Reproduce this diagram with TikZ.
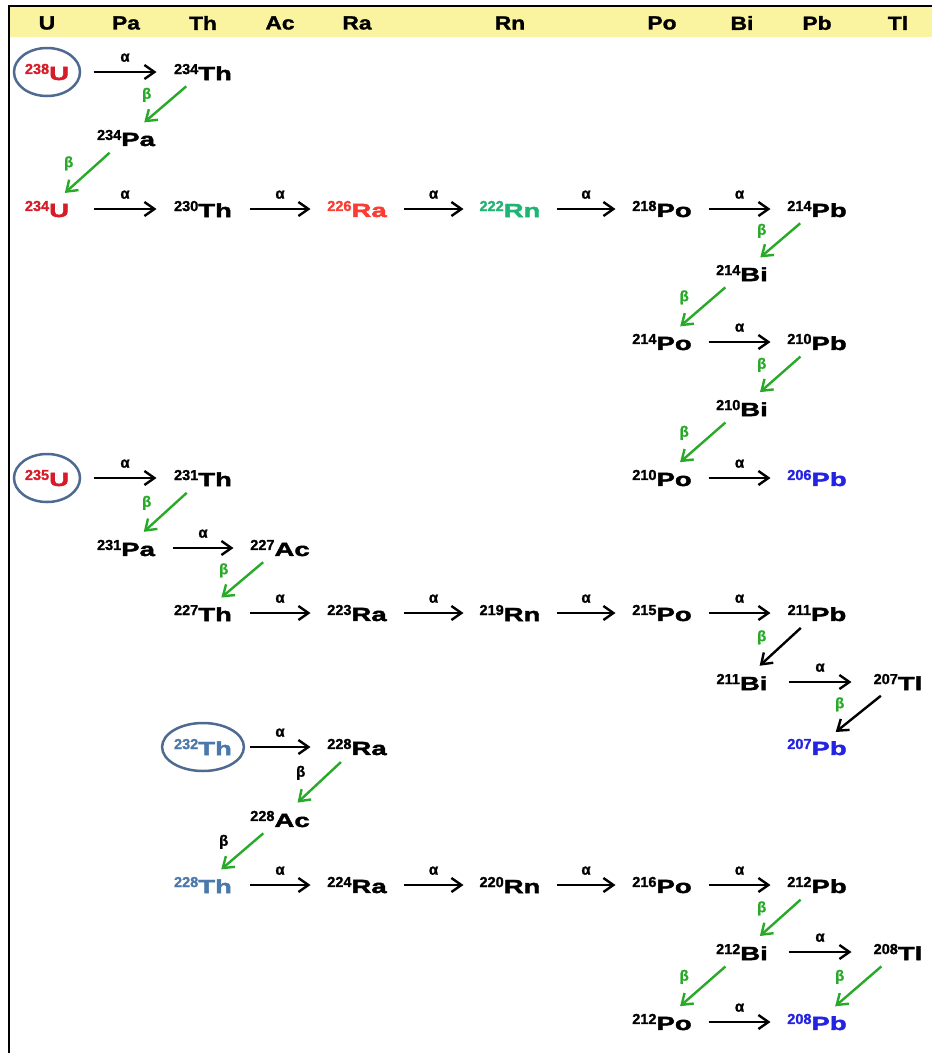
\documentclass[tikz,border=0pt]{standalone}
\usepackage{fontspec}
\setmainfont{Liberation Sans}
\newfontfamily\wideface{Liberation Sans}[FakeStretch=1.45,FakeBold=2.2]
\newfontfamily\digitface{Liberation Sans}[FakeBold=1.2]
\newfontfamily\headface{Liberation Sans}[FakeStretch=1.2,FakeBold=1.5]
\usetikzlibrary{arrows.meta,shapes.geometric,positioning}
\definecolor{ured}{RGB}{214,28,40}
\definecolor{rared}{RGB}{250,60,50}
\definecolor{rngreen}{RGB}{30,180,115}
\definecolor{pbblue}{RGB}{35,35,225}
\definecolor{thblue}{RGB}{75,120,170}
\definecolor{ringblue}{RGB}{78,106,145}
\definecolor{betagreen}{RGB}{40,170,40}
\definecolor{headyellow}{RGB}{250,244,160}
\tikzset{>/.tip={Straight Barb[length=10pt,width=14pt,line width=2.4pt]}}
\newcommand\nuclide[2]{\raisebox{6pt}{\digitface\fontsize{14.5}{15}\selectfont\bfseries#1}{\wideface\fontsize{19}{19}\selectfont\bfseries#2}}

\begin{document}
\begin{tikzpicture}[x=1pt,y=-1pt,
    iso/.style={font=\bfseries,inner sep=1pt},
    ring/.style={iso,ellipse,draw=ringblue,line width=2.5pt,minimum width=66pt,minimum height=48pt,inner sep=0pt},
    head/.style={font=\headface\bfseries\fontsize{19}{19}\selectfont},
    adecay/.style={->,line width=2.4pt,shorten <=46.5pt,shorten >=46.5pt},
    bdecay/.style={->,line width=2.4pt,draw=betagreen,shorten <=22pt,shorten >=24pt},
    alab/.style={font={\digitface\bfseries\fontsize{15}{15}\selectfont},above=9pt,inner sep=0pt},
    blab/.style={font={\digitface\bfseries\fontsize{15}{15}\selectfont},text=betagreen,above left=2pt and 12pt,inner sep=0pt}]
  \useasboundingbox (0,0) rectangle (932,1053);
  % header band and frame
  \fill[headyellow] (9,7) rectangle (932,37);
  \draw[line width=2pt] (932,6) -- (8.5,6) -- (8.5,1053);
  \foreach \el/\x in {U/47,Pa/126,Th/203,Ac/280,Ra/357,Rn/510,Po/662,Bi/742,Pb/817,Tl/898}
    \node[head] (h\el) at (\x,23) {\el};
  % rows
  \foreach \r/\y in {1/72,2/138,3/209,4/273,5/342,6/408,7/478,8/548,9/613,10/682,11/747,12/819,13/885,14/952,15/1022}
    \coordinate (r\r) at (0,\y);

  % 238U series
  \node[ring,text=ured] (U238) at (hU |- r1) {\nuclide{238}{U}};
  \node[iso] (Th234) at (hTh |- r1) {\nuclide{234}{Th}};
  \node[iso] (Pa234) at (hPa |- r2) {\nuclide{234}{Pa}};
  \node[iso,text=ured] (U234) at (hU |- r3) {\nuclide{234}{U}};
  \node[iso] (Th230) at (hTh |- r3) {\nuclide{230}{Th}};
  \node[iso,text=rared] (Ra226) at (hRa |- r3) {\nuclide{226}{Ra}};
  \node[iso,text=rngreen] (Rn222) at (hRn |- r3) {\nuclide{222}{Rn}};
  \node[iso] (Po218) at (hPo |- r3) {\nuclide{218}{Po}};
  \node[iso] (Pb214) at (hPb |- r3) {\nuclide{214}{Pb}};
  \node[iso] (Bi214) at (hBi |- r4) {\nuclide{214}{Bi}};
  \node[iso] (Po214) at (hPo |- r5) {\nuclide{214}{Po}};
  \node[iso] (Pb210) at (hPb |- r5) {\nuclide{210}{Pb}};
  \node[iso] (Bi210) at (hBi |- r6) {\nuclide{210}{Bi}};
  \node[iso] (Po210) at (hPo |- r7) {\nuclide{210}{Po}};
  \node[iso,text=pbblue] (Pb206) at (hPb |- r7) {\nuclide{206}{Pb}};

  % 235U series
  \node[ring,text=ured] (U235) at (hU |- r7) {\nuclide{235}{U}};
  \node[iso] (Th231) at (hTh |- r7) {\nuclide{231}{Th}};
  \node[iso] (Pa231) at (hPa |- r8) {\nuclide{231}{Pa}};
  \node[iso] (Ac227) at (hAc |- r8) {\nuclide{227}{Ac}};
  \node[iso] (Th227) at (hTh |- r9) {\nuclide{227}{Th}};
  \node[iso] (Ra223) at (hRa |- r9) {\nuclide{223}{Ra}};
  \node[iso] (Rn219) at (hRn |- r9) {\nuclide{219}{Rn}};
  \node[iso] (Po215) at (hPo |- r9) {\nuclide{215}{Po}};
  \node[iso] (Pb211) at (hPb |- r9) {\nuclide{211}{Pb}};
  \node[iso] (Bi211) at (hBi |- r10) {\nuclide{211}{Bi}};
  \node[iso] (Tl207) at (hTl |- r10) {\nuclide{207}{Tl}};
  \node[iso,text=pbblue] (Pb207) at (hPb |- r11) {\nuclide{207}{Pb}};

  % 232Th series
  \node[ring,text=thblue] (Th232) at (hTh |- r11) {\nuclide{232}{Th}};
  \node[iso] (Ra228) at (hRa |- r11) {\nuclide{228}{Ra}};
  \node[iso] (Ac228) at (hAc |- r12) {\nuclide{228}{Ac}};
  \node[iso,text=thblue] (Th228) at (hTh |- r13) {\nuclide{228}{Th}};
  \node[iso] (Ra224) at (hRa |- r13) {\nuclide{224}{Ra}};
  \node[iso] (Rn220) at (hRn |- r13) {\nuclide{220}{Rn}};
  \node[iso] (Po216) at (hPo |- r13) {\nuclide{216}{Po}};
  \node[iso] (Pb212) at (hPb |- r13) {\nuclide{212}{Pb}};
  \node[iso] (Bi212) at (hBi |- r14) {\nuclide{212}{Bi}};
  \node[iso] (Tl208) at (hTl |- r14) {\nuclide{208}{Tl}};
  \node[iso] (Po212) at (hPo |- r15) {\nuclide{212}{Po}};
  \node[iso,text=pbblue] (Pb208) at (hPb |- r15) {\nuclide{208}{Pb}};

  % alpha decays
  \foreach \a/\b in {U238/Th234,U234/Th230,Th230/Ra226,Ra226/Rn222,Rn222/Po218,Po218/Pb214,
      Po214/Pb210,Po210/Pb206,U235/Th231,Pa231/Ac227,Th227/Ra223,Ra223/Rn219,Rn219/Po215,
      Po215/Pb211,Bi211/Tl207,Th232/Ra228,Th228/Ra224,Ra224/Rn220,Rn220/Po216,Po216/Pb212,
      Bi212/Tl208,Po212/Pb208}
    \draw[adecay] (\a.center) -- node[alab]{α} (\b.center);
  % beta decays
  \foreach \a/\b in {Th234/Pa234,Pa234/U234,Pb214/Bi214,Bi214/Po214,Pb210/Bi210,Bi210/Po210,
      Th231/Pa231,Ac227/Th227,Pb212/Bi212,Bi212/Po212,Tl208/Pb208}
    \draw[bdecay] (\a.center) -- node[blab]{β} (\b.center);
  \foreach \a/\b in {Pb211/Bi211,Tl207/Pb207}
    \draw[bdecay,draw=black] (\a.center) -- node[blab]{β} (\b.center);
  \foreach \a/\b in {Ra228/Ac228,Ac228/Th228}
    \draw[bdecay] (\a.center) -- node[blab,text=black]{β} (\b.center);
\end{tikzpicture}
\end{document}
